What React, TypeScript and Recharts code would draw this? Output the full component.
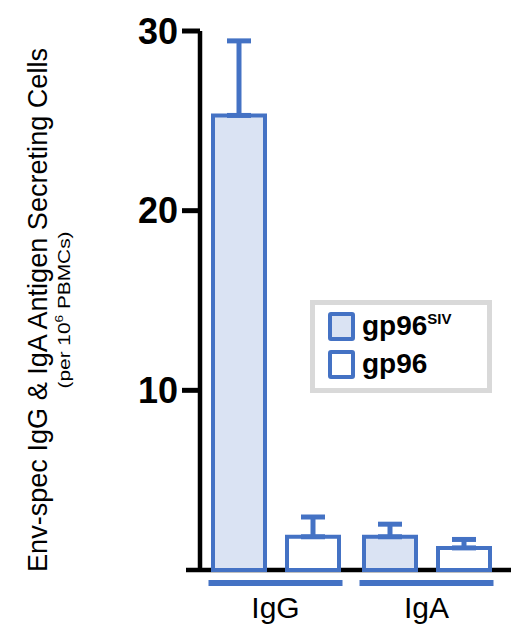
import React from 'react';
import { BarChart, Bar, XAxis, YAxis, ErrorBar, Legend } from 'recharts';

// values (cells per 10^6 PBMCs)
const categories = ['IgG', 'IgA'];
const gp96SivMean = [25.3, 1.85];
const gp96SivErr = [4.15, 0.7];
const gp96Mean = [1.85, 1.23];
const gp96Err = [1.1, 0.47];
const yTicks = [10, 20, 30];

const data = categories.map((name, i) => ({
  name,
  siv: gp96SivMean[i],
  sivErr: [0, gp96SivErr[i]],
  plain: gp96Mean[i],
  plainErr: [0, gp96Err[i]],
}));

const W = 514;
const H = 625;
const MARGIN = { top: 31, right: 12, bottom: 5, left: 0 };
const Y_AXIS_W = 200;
const X_AXIS_H = 50;
const BASE_Y = H - MARGIN.bottom - X_AXIS_H;

const BLUE = '#4472C4';
const LIGHT = '#DAE3F3';
const FONT = '"Liberation Sans", Arial, sans-serif';

const SERIES = [
  { key: 'siv', name: 'gp96', sup: 'SIV', fill: LIGHT },
  { key: 'plain', name: 'gp96', sup: '', fill: '#fff' },
];

function XTick(props: any) {
  const { x, y, payload } = props;
  return (
    <g>
      <line x1={x - 67} x2={x + 67} y1={y + 13} y2={y + 13} stroke={BLUE} strokeWidth={6} />
      <text x={x} y={y + 48} textAnchor="middle" fontSize={30} fill="#000" fontFamily={FONT}>
        {payload.value}
      </text>
    </g>
  );
}

function YLabel() {
  return (
    <g fontFamily={FONT} fill="#000">
      <text
        transform="translate(47,310) rotate(-90)"
        textAnchor="middle"
        fontSize={28}
        textLength={524}
        lengthAdjust="spacingAndGlyphs"
      >
        Env-spec IgG &amp; IgA Antigen Secreting Cells
      </text>
      <text
        transform="translate(70,310) rotate(-90)"
        textAnchor="middle"
        fontSize={17}
        textLength={157}
        lengthAdjust="spacingAndGlyphs"
      >
        (per 10<tspan dy={-7} fontSize={11}>6</tspan><tspan dy={7}> PBMCs)</tspan>
      </text>
    </g>
  );
}

function LegendBox() {
  return (
    <div
      style={{
        boxSizing: 'border-box',
        width: 182,
        height: 93,
        border: '5px solid #D9D9D9',
        background: '#fff',
        padding: '2px 0 0 13px',
        fontFamily: FONT,
      }}
    >
      {SERIES.map((s) => (
        <div key={s.key} style={{ display: 'flex', alignItems: 'center', height: 38 }}>
          <div
            style={{
              boxSizing: 'border-box',
              width: 27,
              height: 29,
              border: `4px solid ${BLUE}`,
              borderRadius: 3,
              background: s.fill,
              marginRight: 7,
            }}
          />
          <span style={{ fontSize: 28, fontWeight: 700, color: '#000' }}>
            {s.name}
            {s.sup && <sup style={{ fontSize: 15, verticalAlign: 11 }}>{s.sup}</sup>}
          </span>
        </div>
      ))}
    </div>
  );
}

export default function App() {
  return (
    <div style={{ position: 'absolute', left: 0, top: 0, width: W, height: H, background: '#fff', fontFamily: FONT }}>
      <BarChart width={W} height={H} data={data} margin={MARGIN} barSize={52} barGap={22}>
        <XAxis
          dataKey="name"
          height={X_AXIS_H}
          axisLine={false}
          tickLine={false}
          tickSize={0}
          tickMargin={0}
          tick={<XTick />}
          interval={0}
        />
        <YAxis
          width={Y_AXIS_W}
          domain={[0, 30]}
          ticks={yTicks}
          axisLine={{ stroke: '#000', strokeWidth: 4.5 }}
          tickLine={{ stroke: '#000', strokeWidth: 5 }}
          tickSize={18}
          tickMargin={4}
          tick={{ fill: '#000', fontSize: 36, fontWeight: 700, fontFamily: FONT }}
          label={{ content: <YLabel /> }}
        />
        <Legend
          layout="vertical"
          align="center"
          verticalAlign="middle"
          content={<LegendBox />}
          wrapperStyle={{ left: 310, top: 300, width: 182, height: 93 }}
        />
        {SERIES.map((s) => (
          <Bar
            key={s.key}
            dataKey={s.key}
            name={s.name + s.sup}
            fill={s.fill}
            stroke={BLUE}
            strokeWidth={4}
            isAnimationActive={false}
          >
            <ErrorBar
              dataKey={s.key + 'Err'}
              direction="y"
              width={12}
              stroke={BLUE}
              strokeWidth={5}
              isAnimationActive={false}
            />
          </Bar>
        ))}
        <line x1={186} x2={511} y1={BASE_Y} y2={BASE_Y} stroke="#000" strokeWidth={4.5} />
      </BarChart>
    </div>
  );
}
